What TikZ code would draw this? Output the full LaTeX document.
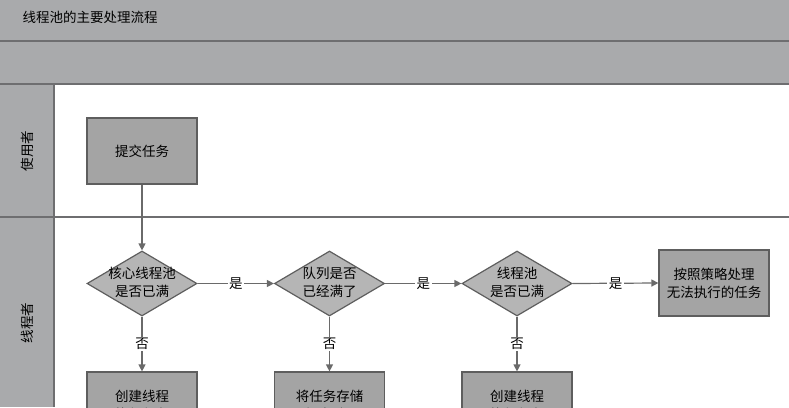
\documentclass[tikz,border=0pt]{standalone}
\usepackage{fontspec}
\newfontfamily\cjk{Noto Sans CJK SC}
\usetikzlibrary{shapes.geometric,arrows.meta}
\definecolor{bandgray}{HTML}{A9AAAC}
\definecolor{boxgray}{HTML}{A4A4A4}
\definecolor{diagray}{HTML}{B5B5B5}
\definecolor{sepgray}{HTML}{6E6E70}
\definecolor{linegray}{HTML}{6A6A6A}
\definecolor{bordergray}{HTML}{5E5E5E}
\tikzset{
  sepline/.style={draw=sepgray, line width=2.2pt},
  thinsep/.style={draw=sepgray, line width=1.4pt},
  procbox/.style={draw=bordergray, fill=boxgray, line width=1.2pt, minimum width=110pt, minimum height=66pt, inner sep=0pt, align=center},
  decision/.style={diamond, draw=bordergray, fill=diagray, line width=1.2pt, minimum width=110pt, minimum height=65pt, inner sep=0pt},
  flow/.style={draw=linegray, line width=1.2pt, -{Triangle[length=7pt,width=7pt]}},
  edgelabel/.style={fill=white, inner sep=1.5pt},
  lanetext/.style={rotate=90},
  dtext/.style={align=center}
}
\begin{document}
\begin{tikzpicture}[x=1pt,y=-1pt, font=\cjk\fontsize{13.5}{18}\selectfont]
\useasboundingbox (0,0) rectangle (789,407);
\clip (0,0) rectangle (789,407);
\fill[white] (0,0) rectangle (789,407);
\fill[bandgray] (0,0) rectangle (789,84);
\fill[bandgray] (0,84) rectangle (54,407);
\draw[sepline] (0,41) -- (789,41);
\draw[sepline] (0,84) -- (789,84);
\draw[thinsep] (54,84) -- (54,407);
\draw[thinsep] (0,217) -- (789,217);
\node[anchor=west] (title) at (19,17) {线程池的主要处理流程};
\node[lanetext] (lane1) at (27,151) {使用者};
\node[lanetext] (lane2) at (27,323) {线程者};

\node[procbox] (submit) at (142,151) {提交任务};
\node[decision] (d1) at (142,283.5) {};
\node[dtext] (d1t) at (142,282) {核心线程池\\是否已满};
\node[decision] (d2) at (329.5,283.5) {};
\node[dtext] (d2t) at (329.5,282) {队列是否\\已经满了};
\node[decision] (d3) at (517,283.5) {};
\node[dtext] (d3t) at (517,282) {线程池\\是否已满};
\node[procbox] (reject) at (714,283) {按照策略处理\\无法执行的任务};
\node[procbox] (b1) at (142,405) {创建线程\\执行任务};
\node[procbox] (b2) at (329.5,405) {将任务存储\\在队列里};
\node[procbox] (b3) at (517,405) {创建线程\\执行任务};

\draw[flow] (submit.south) -- (d1.north);
\draw[flow] (d1.east) -- node[edgelabel] {是} (d2.west);
\draw[flow] (d2.east) -- node[edgelabel] {是} (d3.west);
\draw[flow] (d3.east) -- node[edgelabel] {是} (reject.west);
\draw[flow] (d1.south) -- node[edgelabel] {否} (b1.north);
\draw[flow] (d2.south) -- node[edgelabel] {否} (b2.north);
\draw[flow] (d3.south) -- node[edgelabel] {否} (b3.north);
\end{tikzpicture}
\end{document}
